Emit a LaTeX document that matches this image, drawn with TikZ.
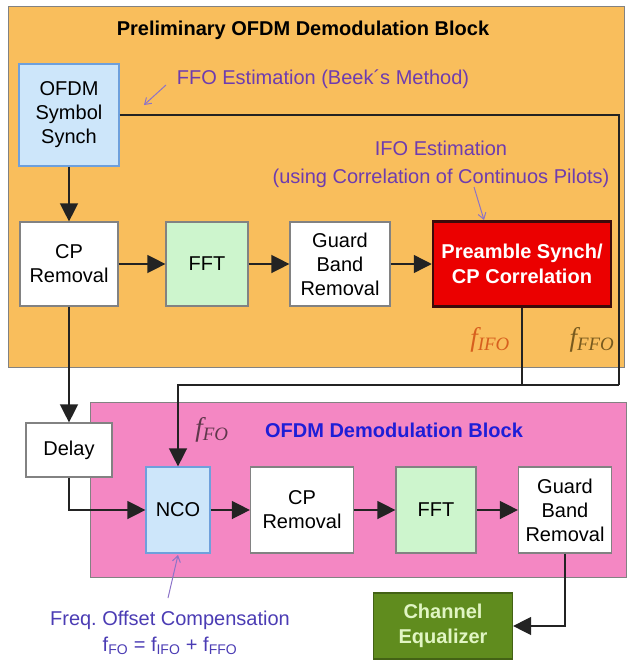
\documentclass[tikz,border=0pt]{standalone}
\usepackage{fontspec}
\setmainfont{Liberation Sans}
\newfontfamily\timesit{Liberation Serif}
\usetikzlibrary{arrows.meta}
\definecolor{prelim}{RGB}{249,190,92}
\definecolor{demod}{RGB}{244,135,195}
\definecolor{edgegray}{RGB}{130,130,130}
\definecolor{wiregray}{RGB}{35,35,35}
\definecolor{syncblue}{RGB}{205,230,250}
\definecolor{syncedge}{RGB}{110,160,220}
\definecolor{fftgreen}{RGB}{205,245,205}
\definecolor{prered}{RGB}{235,0,0}
\definecolor{preedge}{RGB}{60,10,10}
\definecolor{eqgreen}{RGB}{96,140,30}
\definecolor{eqtext}{RGB}{225,245,195}
\definecolor{notepurple}{RGB}{110,60,175}
\definecolor{pointcol}{RGB}{140,115,200}
\definecolor{titleblue}{RGB}{30,30,215}
\definecolor{ifocol}{RGB}{215,95,30}
\definecolor{ffocol}{RGB}{120,90,30}
\definecolor{focol}{RGB}{95,55,75}
\definecolor{compblue}{RGB}{75,60,180}

\begin{document}
\begin{tikzpicture}[x=1pt,y=-1pt,
    box/.style={draw=edgegray,line width=1.2pt,fill=white,inner sep=0pt,align=center,font=\fontsize{20}{24}\selectfont},
    wire/.style={draw=wiregray,line width=1.4pt},
    arr/.style={wire,-{Triangle[length=18pt,width=18pt]}},
    note/.style={text=notepurple,font=\fontsize{20}{28}\selectfont,align=center},
    pointer/.style={draw=pointcol,line width=1pt,-{Straight Barb[length=6pt,width=8pt]}},
    freq/.style={font=\timesit\itshape\fontsize{27}{27}\selectfont}]
  \useasboundingbox (0,0) rectangle (628,661);
  \draw[fill=prelim,draw=edgegray,line width=1pt] (8,7) rectangle (624,367);
  \draw[fill=demod,draw=edgegray,line width=1pt] (90,402) rectangle (626,577);
  \node[font=\bfseries\fontsize{20}{24}\selectfont] (ptitle) at (303,30) {Preliminary OFDM Demodulation Block};
  \node[font=\bfseries\fontsize{20}{24}\selectfont,text=titleblue] (dtitle) at (394,430) {OFDM Demodulation Block};

  \node[box,fill=syncblue,draw=syncedge,minimum width=100pt,minimum height=102pt] (sync) at (69,115) {OFDM\\Symbol\\Synch};
  \node[box,minimum width=98pt,minimum height=84pt] (cpa) at (69,264) {CP\\Removal};
  \node[box,fill=fftgreen,minimum width=82pt,minimum height=84pt] (ffta) at (207,264) {FFT};
  \node[box,minimum width=100pt,minimum height=84pt] (gbra) at (340,264) {Guard\\Band\\Removal};
  \node[box,fill=prered,draw=preedge,line width=2.5pt,text=white,font=\bfseries\fontsize{20}{25}\selectfont,minimum width=178pt,minimum height=85pt] (pre) at (522,264) {Preamble Synch/\\CP Correlation};

  \node[box,minimum width=86pt,minimum height=54pt] (delay) at (69,450) {Delay};
  \node[box,fill=syncblue,draw=syncedge,minimum width=64pt,minimum height=86pt] (nco) at (178,510) {NCO};
  \node[box,minimum width=103pt,minimum height=86pt] (cpb) at (302,510) {CP\\Removal};
  \node[box,fill=fftgreen,minimum width=80pt,minimum height=86pt] (fftb) at (436,510) {FFT};
  \node[box,minimum width=93pt,minimum height=86pt] (gbrb) at (565,510) {Guard\\Band\\Removal};
  \node[box,fill=eqgreen,draw=eqgreen!70!black,text=eqtext,font=\bfseries\fontsize{20}{25}\selectfont,minimum width=139pt,minimum height=66pt] (eq) at (443,626) {Channel\\Equalizer};

  \node[note] (ffo) at (323,79) {FFO Estimation (Beek´s Method)};
  \node[note] (ifo) at (441,164) {IFO Estimation\\(using Correlation of Continuos Pilots)};
  \node[note,text=compblue,font=\fontsize{20}{26}\selectfont] (comp) at (170,633) {Freq.\ Offset Compensation\\f\textsubscript{FO} = f\textsubscript{IFO} + f\textsubscript{FFO}};
  \node[freq,text=ifocol] (fifo) at (490,340) {f\textsubscript{IFO}};
  \node[freq,text=ffocol] (fffo) at (592,340) {f\textsubscript{FFO}};
  \node[freq,text=focol] (ffo2) at (212,430) {f\textsubscript{FO}};

  \coordinate (ffotip) at (144,105);
  \coordinate (ifotip) at (484,220);
  \coordinate (comptip) at (178,555);
  \coordinate (join) at (619,385);
  \draw[pointer] (166,85) -- (ffotip);
  \draw[pointer] (474,187) -- (ifotip);
  \draw[pointer] (168,598) -- (comptip);

  \draw[arr] (sync) -- (cpa);
  \draw[arr] (cpa) -- (ffta);
  \draw[arr] (ffta) -- (gbra);
  \draw[arr] (gbra) -- (pre);
  \draw[wire] (sync.east) -| (join);
  \draw[wire] (pre.south) -- (pre.south |- join);
  \draw[arr] (join) -| (nco.north);
  \draw[arr] (cpa) -- (delay);
  \draw[arr] (delay.south) |- (nco.west);
  \draw[arr] (nco) -- (cpb);
  \draw[arr] (cpb) -- (fftb);
  \draw[arr] (fftb) -- (gbrb);
  \draw[arr] (gbrb.south) |- (eq.east);
\end{tikzpicture}
\end{document}
